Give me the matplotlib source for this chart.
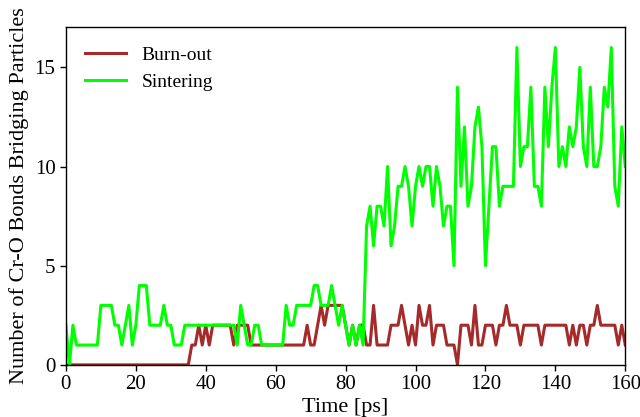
import matplotlib
matplotlib.use("Agg")
import matplotlib.pyplot as plt
import numpy as np

time_ps = list(range(0, 161))

burn_out = (
    [0] * 36
    + [1, 1, 2, 1, 2, 1, 2, 2, 2, 2, 2, 2, 1, 2, 2, 2, 2]          # 36-52
    + [1] * 16                                                     # 53-68
    + [2, 1, 1, 2, 3, 2, 3, 3, 3, 3, 3, 2, 1, 2, 1, 2, 2, 1, 1, 3]  # 69-88
    + [1, 1, 1, 1, 2, 2, 2, 3, 2, 1, 2, 1, 3, 2, 2, 3, 1, 2, 2, 2]  # 89-108
    + [1, 1, 1, 0, 2, 2, 2, 1, 3, 1, 1, 2, 2, 2, 1, 2, 2, 3, 2, 2]  # 109-128
    + [2, 1, 2, 2, 2, 2, 2, 1, 2, 2, 2, 2, 2, 2, 2, 1, 2, 1, 2, 2]  # 129-148
    + [1, 2, 2, 3, 2, 2, 2, 2, 2, 1, 2, 1]                          # 149-160
)

sintering = (
    [2, 0, 2, 1, 1, 1, 1, 1, 1, 1, 3, 3, 3, 3, 2, 2, 1, 2, 3, 1]    # 0-19
    + [2, 4, 4, 4, 2, 2, 2, 2, 3, 2, 2, 1, 1, 1]                    # 20-33
    + [2] * 15                                                     # 34-48
    + [1, 3, 2, 1, 1, 2, 2]                                        # 49-55
    + [1] * 7                                                      # 56-62
    + [3, 2, 2, 3, 3, 3, 3, 3, 4, 4, 3, 3, 3, 4, 3, 2, 3, 2, 1, 2]  # 63-82
    + [1, 2, 1, 7, 8, 6, 8, 8, 7, 10, 6, 7, 9, 9, 10, 9, 7, 9]      # 83-100
    + [10, 9, 10, 10, 8, 10, 9, 7, 8, 8, 5, 14, 9, 12, 8, 9, 12, 13, 11, 5]  # 101-120
    + [8, 11, 11, 8, 9, 9, 9, 9, 16, 10, 11, 11, 14, 9, 9, 8, 14, 11, 14, 16]  # 121-140
    + [10, 11, 10, 12, 11, 12, 15, 11, 10, 14, 10, 10, 11, 14, 13, 16, 9, 8, 12, 10]  # 141-160
)

x_ticks = [0, 20, 40, 60, 80, 100, 120, 140, 160]
y_ticks = [0, 5, 10, 15]

plt.rcParams['font.family'] = ['Liberation Serif', 'DejaVu Serif']
plt.rcParams['mathtext.fontset'] = 'stix'

fig = plt.figure(figsize=(6.4, 4.17), dpi=100)
ax = fig.add_axes([0.103, 0.125, 0.874, 0.811])

ax.plot(time_ps, burn_out, color='#a52a2a', lw=2.2, label='Burn-out')
ax.plot(time_ps, sintering, color='#00ff00', lw=2.2, label='Sintering')

ax.set_xlim(0, 160)
ax.set_ylim(0, 17.05)
ax.set_xticks(x_ticks)
ax.set_yticks(y_ticks)
ax.tick_params(labelsize=15, length=4, width=1)
ax.set_xlabel('Time [ps]', fontsize=16, labelpad=3)
ax.set_ylabel('Number of Cr-O Bonds Bridging Particles', fontsize=16, labelpad=4)
for sp in ax.spines.values():
    sp.set_linewidth(1.0)

ax.legend(loc='upper left', frameon=False, fontsize=14, handlelength=2.1,
          borderaxespad=0.6, labelspacing=0.5)

fig.savefig('out.png', dpi=100)
